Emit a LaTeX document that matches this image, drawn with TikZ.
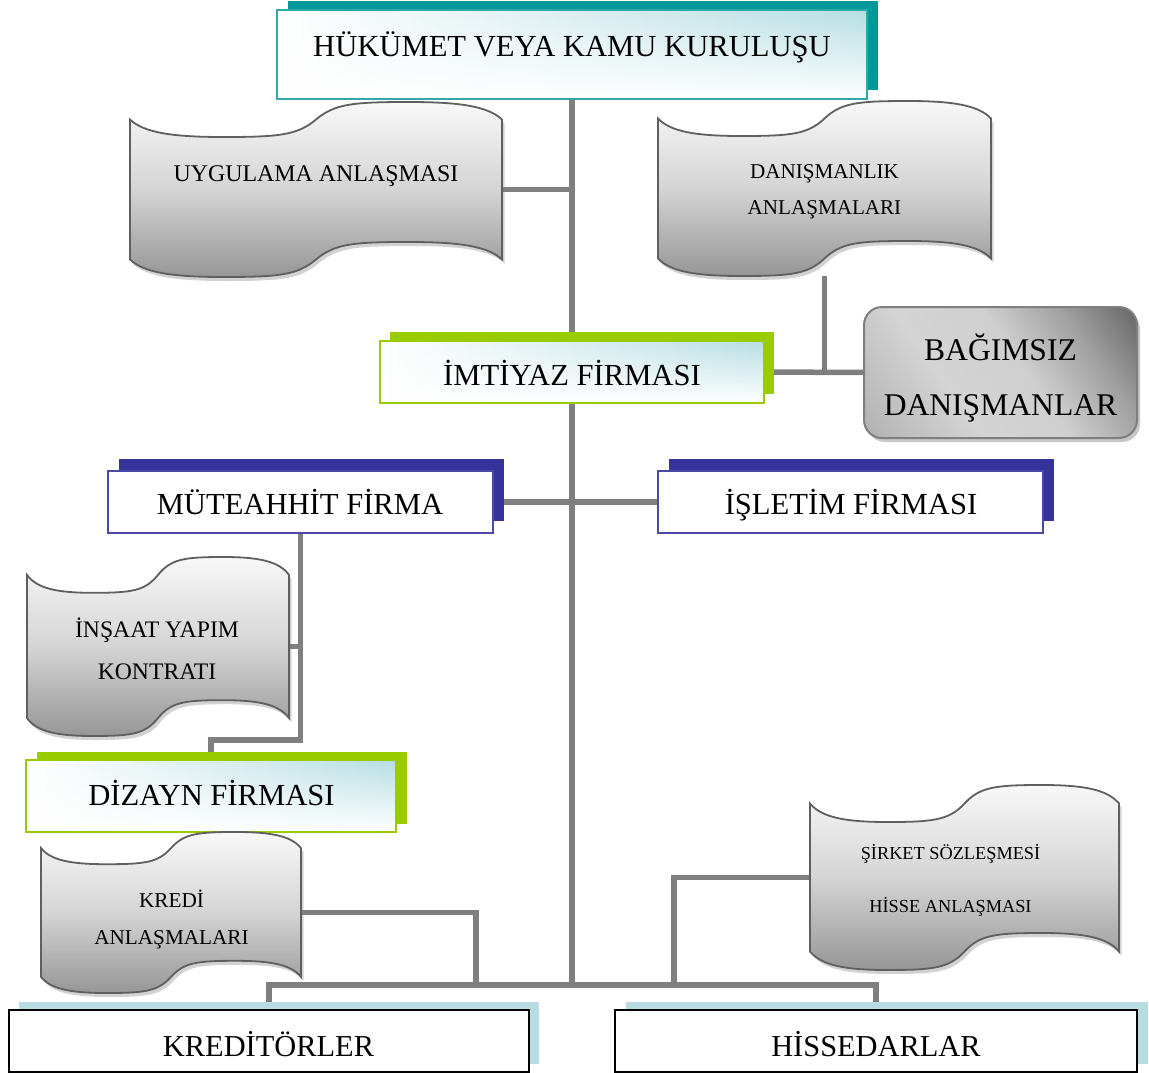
\documentclass[tikz,border=0pt]{standalone}
\usepackage{fontspec}
\setmainfont{Liberation Serif}
\usetikzlibrary{calc,fadings}
\pgfdeclarelayer{back}
\pgfdeclarelayer{shad}
\pgfsetlayers{back,shad,main}

\definecolor{lineg}{HTML}{7F7F7F}
\definecolor{tealc}{HTML}{009999}
\definecolor{tealb}{HTML}{2FA8A8}
\definecolor{greenc}{HTML}{99CC00}
\definecolor{navyc}{HTML}{333399}
\definecolor{navyb}{HTML}{4A4AA8}
\definecolor{lblue}{HTML}{B7DDE3}
\definecolor{fillc}{HTML}{B6DEE3}
\definecolor{docb}{HTML}{5F5F5F}
\definecolor{docT}{HTML}{F8F8F8}
\definecolor{docM}{HTML}{D4D4D4}
\definecolor{docB}{HTML}{969696}
\definecolor{bagD}{HTML}{959595}
\definecolor{bagM}{HTML}{B8B8B8}
\definecolor{bagL}{HTML}{D4D4D4}
\definecolor{bagL2}{HTML}{CFCFCF}
\definecolor{bagM2}{HTML}{A0A0A0}
\definecolor{bagD2}{HTML}{585858}

\tikzfading[name=fadeN, top color=transparent!100, bottom color=transparent!0]
\pgfdeclarehorizontalshading{bagsh}{100bp}{color(0bp)=(bagD); color(20bp)=(bagM); color(38bp)=(bagL); color(55bp)=(bagL2); color(70bp)=(bagM2); color(88bp)=(bagD2); color(100bp)=(bagD2)}

\newcommand\myfs[1]{\fontsize{#1}{#1}\selectfont}
\newcommand\docpath{(0,\dcB)
 .. controls (0.15*\dcA,1.75*\dcB) and (0.45*\dcA,2*\dcB) .. (\dcA,2*\dcB)
 .. controls (1.6*\dcA,2*\dcB) and (1.8*\dcA,1.9*\dcB) .. (2*\dcA,\dcB)
 .. controls (2.2*\dcA,0.1*\dcB) and (2.4*\dcA,0) .. (3*\dcA,0)
 .. controls (3.55*\dcA,0) and (3.85*\dcA,0.25*\dcB) .. (4*\dcA,\dcB)
 -- (4*\dcA,\dcH-\dcB)
 .. controls (3.85*\dcA,\dcH-1.75*\dcB) and (3.55*\dcA,\dcH-2*\dcB) .. (3*\dcA,\dcH-2*\dcB)
 .. controls (2.4*\dcA,\dcH-2*\dcB) and (2.2*\dcA,\dcH-1.9*\dcB) .. (2*\dcA,\dcH-\dcB)
 .. controls (1.8*\dcA,\dcH-0.1*\dcB) and (1.6*\dcA,\dcH) .. (\dcA,\dcH)
 .. controls (0.45*\dcA,\dcH) and (0.15*\dcA,\dcH-0.25*\dcB) .. (0,\dcH-\dcB)
 -- cycle}
\newcommand\docshape[5]{%
 \node[inner sep=0pt, outer sep=0pt, minimum width=#4, minimum height=#5, anchor=north west] (#1) at (#2,#3) {};
 \pgfmathsetmacro\dcA{#4/4}%
 \pgfmathsetmacro\dcB{#5/10}%
 \pgfmathsetmacro\dcH{#5}%
 \begin{pgfonlayer}{back}\fill[docsh, shift={(#2+2.5,#3+4)}] \docpath;\end{pgfonlayer}
 \draw[docline, shift={(#2,#3)}] \docpath;
}
\newcommand\boxshadow[4]{%
 \begin{pgfonlayer}{shad}\fill[#2] ([shift={(#3,#4)}]#1.south west) rectangle ([shift={(#3,#4)}]#1.north east);\end{pgfonlayer}}

\begin{document}
\begin{tikzpicture}[x=1pt,y=-1pt,
 conn/.style={draw=lineg, line width=5.5pt},
 gbox/.style={rectangle, inner sep=0pt, outer sep=0pt, left color=white, right color=fillc, line width=1.6pt,
   path picture={\fill[white, path fading=fadeN] (path picture bounding box.south west) rectangle (path picture bounding box.north east);}},
 wbox/.style={rectangle, inner sep=0pt, outer sep=0pt, fill=white, line width=1.6pt},
 bagbox/.style={rectangle, rounded corners=18pt, inner sep=0pt, outer sep=0pt, shading=bagsh, shading angle=35, draw=lineg, line width=2pt},
 docline/.style={draw=docb, line width=1.8pt, top color=docT, bottom color=docB, middle color=docM},
 docsh/.style={fill=black!25, opacity=0.7},
 lab/.style={inner sep=0pt, text depth=0pt, text height={0.662*#1}, font=\myfs{#1}}
]
\useasboundingbox (0,0) rectangle (1149,1073);

% ---- boxes ----
\node[gbox, draw=tealb, minimum width=590, minimum height=89] (gov) at (572,54.5) {};
\boxshadow{gov}{tealc}{10.5}{-8.5}
\node[gbox, draw=greenc, minimum width=384, minimum height=62] (imt) at (572,372) {};
\boxshadow{imt}{greenc}{10}{-9}
\node[wbox, draw=navyb, minimum width=385, minimum height=62] (mut) at (300.5,502) {};
\boxshadow{mut}{navyc}{11}{-12}
\node[wbox, draw=navyb, minimum width=385, minimum height=62] (isl) at (850.5,502) {};
\boxshadow{isl}{navyc}{11}{-12}
\node[gbox, draw=greenc, minimum width=370, minimum height=72] (diz) at (211,796) {};
\boxshadow{diz}{greenc}{10.5}{-8.5}
\node[wbox, draw=black, minimum width=520, minimum height=62] (kred) at (269,1041) {};
\boxshadow{kred}{lblue}{10}{-8.5}
\node[wbox, draw=black, minimum width=522, minimum height=62] (hiss) at (876,1041) {};
\boxshadow{hiss}{lblue}{10.5}{-8.5}
\begin{pgfonlayer}{shad}
\fill[black!22, rounded corners=18pt] ([shift={(3,4)}]1000.5-136.5,372.5-65.5) rectangle ([shift={(3,4)}]1000.5+136.5,372.5+65.5);
\end{pgfonlayer}
\node[bagbox, minimum width=273, minimum height=131] (bag) at (1000.5,372.5) {};

% ---- documents ----
\docshape{uyg}{130}{102}{372}{175}
\docshape{dan}{658}{101}{333}{175}
\docshape{ins}{27}{557}{262}{179}
\docshape{kre}{41}{832}{260}{161}
\docshape{sir}{810}{785}{309}{185}

% ---- texts ----
\node[lab=30.6] (govT) at (572,46) {HÜKÜMET VEYA KAMU KURULUŞU};
\node[lab=30.6] (imtT) at (572,375) {İMTİYAZ FİRMASI};
\node[lab=30.6] (mutT) at (300,504) {MÜTEAHHİT FİRMA};
\node[lab=30.6] (islT) at (851,504) {İŞLETİM FİRMASI};
\node[lab=30.6] (dizT) at (211.5,795) {DİZAYN FİRMASI};
\node[lab=30.4] (kredT) at (268.5,1046) {KREDİTÖRLER};
\node[lab=30.4] (hissT) at (876,1046) {HİSSEDARLAR};
\node[lab=31.6] (bagT1) at (1000.5,350) {BAĞIMSIZ};
\node[lab=31.6] (bagT2) at (1000.5,405) {DANIŞMANLAR};
\node[lab=23.9] (uygT) at (316,174) {UYGULAMA ANLAŞMASI};
\node[lab=21.1] (danT1) at (824.5,172) {DANIŞMANLIK};
\node[lab=21.1] (danT2) at (824.5,208) {ANLAŞMALARI};
\node[lab=23.7] (insT1) at (157,630) {İNŞAAT YAPIM};
\node[lab=23.7] (insT2) at (157,672) {KONTRATI};
\node[lab=21.2] (kreT1) at (171.5,900) {KREDİ};
\node[lab=21.2] (kreT2) at (171.5,937) {ANLAŞMALARI};
\node[lab=18.3] (sirT1) at (950.5,853) {ŞİRKET SÖZLEŞMESİ};
\node[lab=18.3] (sirT2) at (950.5,906) {HİSSE ANLAŞMASI};

% ---- connectors ----
\coordinate (busC) at (572,985);
\coordinate (mdc) at (211,740);
\coordinate (kreBus) at (476,985);
\coordinate (sirBus) at (674,985);
\begin{pgfonlayer}{back}
\draw[conn] (gov.south) -- (busC);
\draw[conn] (kred.north) -- (kred.north |- busC) -- (hiss.north |- busC) -- (hiss.north);
\draw[conn] (uyg.east) -- (uyg.east -| gov.south);
\draw[conn] (dan.south) -- (dan.south |- imt.east);
\draw[conn] (imt.east) -- (bag.west);
\draw[conn] (mut.east) -- (isl.west);
\draw[conn] (mut.south) |- (mdc) -- (diz.north);
\draw[conn] (ins.east) -- (ins.east -| mut.south);
\draw[conn] (kre.east) -| (kreBus);
\draw[conn] (sir.west) -| (sirBus);
\end{pgfonlayer}
\end{tikzpicture}
\end{document}
